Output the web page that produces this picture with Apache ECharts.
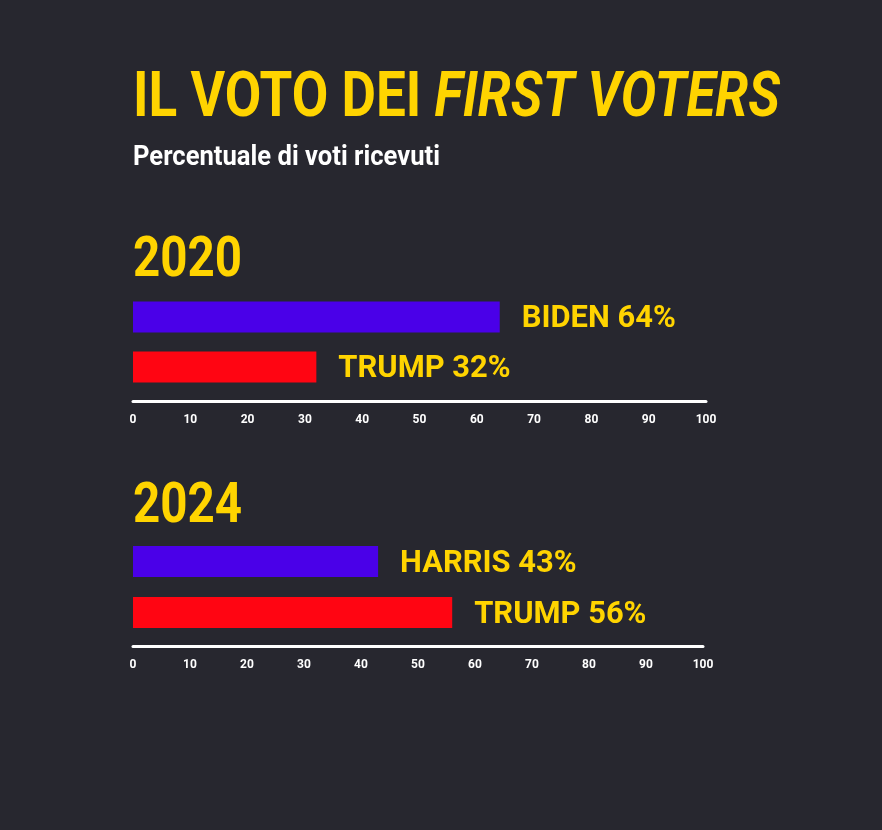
<!DOCTYPE html>
<html><head><meta charset="utf-8">
<script src="https://cdn.jsdelivr.net/npm/echarts@6/dist/echarts.min.js"></script>
<style>html,body{margin:0;padding:0;background:#27272f;}#c{width:882px;height:830px;}</style>
</head><body><div id="c"></div>
<script>
const candidates2020 = ['BIDEN', 'TRUMP'];
const values2020 = [64, 32];
const candidates2024 = ['HARRIS', 'TRUMP'];
const values2024 = [43, 56];
const barColors = ['#4a00e8', '#ff0512'];
const years = ['2020', '2024'];
const xTicks = [0, 10, 20, 30, 40, 50, 60, 70, 80, 90, 100];
const titleMain = 'IL VOTO DEI ';
const titleItalic = 'FIRST VOTERS';
const subtitle = 'Percentuale di voti ricevuti';

const FAM = 'Roboto, "Noto Sans", sans-serif';
const YELLOW = '#ffd400';

const mctx = document.createElement('canvas').getContext('2d');
function tw(text, size, italic){
  mctx.font = (italic ? 'italic ' : '') + 'bold ' + size + 'px ' + FAM;
  return mctx.measureText(text).width;
}
// condense text horizontally to match the narrow typeface of the original
const titleSize = 63;
const titleScale = 647 / (tw(titleMain, titleSize, false) + tw(titleItalic, titleSize, true));
const subSize = 28;
const subScale = 307 / tw(subtitle, subSize, false);
const yearSize = 56;
const yearScale = 109 / tw(years[0], yearSize, false);
const labSize = 31;
const labScale = 154 / tw('BIDEN 64%', labSize, false);
const CAP_SHIFT = 0.085; // em-middle to cap-centre correction

function txt(text, x, y, size, scale, color){
  return {type:'text', x:x, y:y + CAP_SHIFT * size, scaleX:scale, silent:true,
    style:{text:text, fill:color, font:'bold ' + size + 'px ' + FAM,
      textAlign:'left', textVerticalAlign:'middle', align:'left', verticalAlign:'middle'}};
}

function mkData(vals){
  return vals.map((v,i)=>({value:v, itemStyle:{color:barColors[i]}}));
}
function labelSeries(vals, names, axisIdx){
  return {
    type:'custom', xAxisIndex:axisIdx, yAxisIndex:axisIdx, silent:true,
    data: vals.map((v,i)=>[v, i]),
    renderItem: function(params, api){
      const pt = api.coord([api.value(0), api.value(1)]);
      const i = params.dataIndex;
      return txt(names[i] + ' ' + vals[i] + '%', pt[0] + 22, pt[1], labSize, labScale, YELLOW);
    }
  };
}

const chart = echarts.init(document.getElementById('c'));
const xAxisBase = {
  type:'value', min:xTicks[0], max:xTicks[xTicks.length-1], interval:10,
  axisLine:{show:true, lineStyle:{color:'#ffffff', width:3}},
  axisTick:{show:false}, splitLine:{show:false},
  axisLabel:{color:'#ffffff', fontFamily:FAM, fontWeight:'bold', fontSize:12, margin:13}
};
chart.setOption({
  backgroundColor:'#27272f',
  animation:false,
  graphic:[
    {type:'text', x:133, y:95 + CAP_SHIFT * titleSize, scaleX:titleScale, silent:true,
     style:{text:'{a|' + titleMain + '}{b|' + titleItalic + '}',
       textAlign:'left', textVerticalAlign:'middle', align:'left', verticalAlign:'middle',
       rich:{
         a:{fontFamily:FAM, fontWeight:'bold', fontSize:titleSize, fill:YELLOW, color:YELLOW},
         b:{fontFamily:FAM, fontWeight:'bold', fontStyle:'italic', fontSize:titleSize, fill:YELLOW, color:YELLOW}
       }}},
    txt(subtitle, 133, 156, subSize, subScale, '#ffffff'),
    txt(years[0], 133, 257, yearSize, yearScale, YELLOW),
    txt(years[1], 133, 503, yearSize, yearScale, YELLOW)
  ],
  grid:[
    {left:133, right:176, top:292, height:100},
    {left:133, right:179, top:536, height:102}
  ],
  xAxis:[
    Object.assign({gridIndex:0, offset:9}, xAxisBase),
    Object.assign({gridIndex:1, offset:8}, xAxisBase)
  ],
  yAxis:[
    {type:'category', gridIndex:0, data:candidates2020, inverse:true, show:false},
    {type:'category', gridIndex:1, data:candidates2024, inverse:true, show:false}
  ],
  series:[
    {type:'bar', xAxisIndex:0, yAxisIndex:0, data:mkData(values2020), barWidth:31},
    {type:'bar', xAxisIndex:1, yAxisIndex:1, data:mkData(values2024), barWidth:31},
    labelSeries(values2020, candidates2020, 0),
    labelSeries(values2024, candidates2024, 1)
  ]
});
</script></body></html>
